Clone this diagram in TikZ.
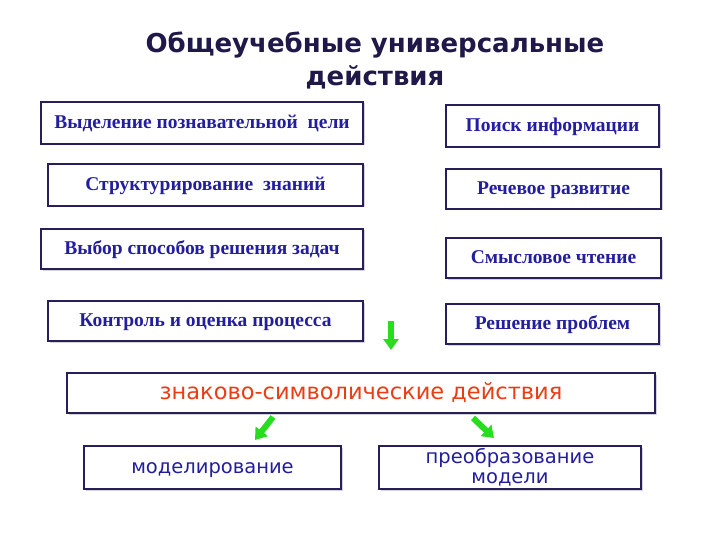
\documentclass[tikz,border=0pt]{standalone}
\usepackage{fontspec}
\setmainfont{Liberation Serif}
\newfontfamily\titlefont{DejaVu Sans}
\newfontfamily\dfont{DejaVu Sans}
\usetikzlibrary{arrows.meta,shadows}
\definecolor{navy}{RGB}{40,30,90}
\definecolor{txtblue}{RGB}{35,30,160}
\definecolor{redor}{RGB}{235,60,20}
\definecolor{grn}{RGB}{40,220,30}
\tikzset{
  box/.style={draw=navy,line width=2pt,fill=white,drop shadow={shadow xshift=1.5pt,shadow yshift=-1.5pt,fill=navy!40},anchor=north west,inner sep=0pt,
    font=\fontsize{19.5}{21}\selectfont\bfseries,text=txtblue,align=center},
  sbox/.style={box,font=\dfont\fontsize{19.5}{20}\selectfont},
  garrow/.style={grn,line width=6pt,-{Triangle[width=15pt,length=11pt]}}
}
\begin{document}
\begin{tikzpicture}[x=1pt,y=-1pt]
\useasboundingbox (0,0) rectangle (720,540);
\node[font=\titlefont\bfseries\fontsize{26}{33}\selectfont,text=navy!80!black,align=center] (title) at (375,60) {Общеучебные универсальные\\действия};
\node[box,minimum width=322pt,minimum height=42pt,text height=11pt,text depth=0pt] (l1) at (40,101) {Выделение познавательной\ \ цели};
\node[box,minimum width=315pt,minimum height=42pt,text height=11pt,text depth=0pt] (l2) at (47,163) {Структурирование\ \ знаний};
\node[box,minimum width=322pt,minimum height=40pt,text height=11pt,text depth=0pt] (l3) at (40,228) {Выбор способов решения задач};
\node[box,minimum width=315pt,minimum height=40pt,text height=11pt,text depth=0pt] (l4) at (47,300) {Контроль и оценка процесса};
\node[box,minimum width=213pt,minimum height=42pt,text height=11pt,text depth=0pt] (r1) at (445,104) {Поиск информации};
\node[box,minimum width=215pt,minimum height=40pt,text height=11pt,text depth=0pt] (r2) at (445,168) {Речевое развитие};
\node[box,minimum width=215pt,minimum height=40pt,text height=11pt,text depth=0pt] (r3) at (445,237) {Смысловое чтение};
\node[box,minimum width=213pt,minimum height=40pt,text height=11pt,text depth=0pt] (r4) at (445,303) {Решение проблем};
\node[sbox,minimum width=588pt,minimum height=40pt,text=redor,font=\dfont\fontsize{22.5}{24}\selectfont] (big) at (66,372) {знаково-символические действия};
\node[sbox,minimum width=257pt,minimum height=43pt,text height=12pt,text depth=0pt] (b1) at (83,445) {моделирование};
\node[sbox,minimum width=262pt,minimum height=43pt] (b2) at (378,445) {преобразование\\модели};
\coordinate (a1s) at (391,321); \coordinate (a1e) at (391,350);
\coordinate (a2s) at (273,417); \coordinate (a2e) at (255,440);
\coordinate (a3s) at (473,418); \coordinate (a3e) at (494,438);
\draw[garrow] (a1s) -- (a1e);
\draw[garrow] (a2s) -- (a2e);
\draw[garrow] (a3s) -- (a3e);
\end{tikzpicture}
\end{document}
